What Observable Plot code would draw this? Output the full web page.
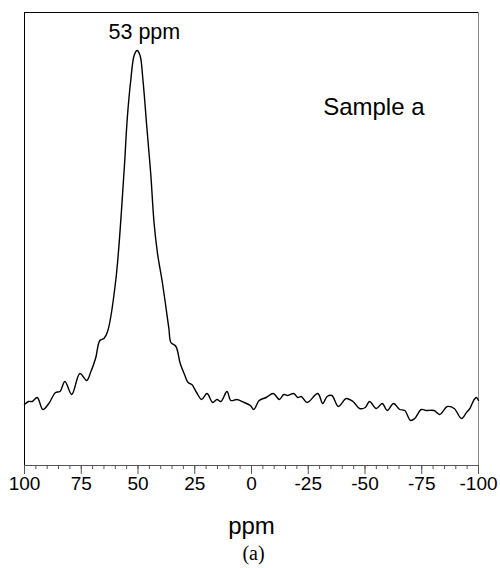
<!DOCTYPE html>
<html>
<head>
<meta charset="utf-8">
<script src="https://cdn.jsdelivr.net/npm/d3@7"></script>
<script src="https://cdn.jsdelivr.net/npm/@observablehq/plot@0.6"></script>
<style>
  html, body { margin: 0; padding: 0; background: #fff; }
</style>
</head>
<body>
<div id="chart"></div>
<script>
// Chemical shift (ppm), left (100) to right (-100)
const ppm = [
  100, 98.2, 96.6, 94.4, 91.9, 89.3, 86.3, 84.4, 82.2, 79.2,
  75.6, 72.6, 70.9, 68.7, 66.8, 65.0, 63.4, 59.8, 56.2, 54.7,
  53.2, 51.7, 50.4, 49.1, 47.8, 46.1, 44.4, 42.9, 41.4, 39.2,
  36.4, 35.5, 33.3, 31.4, 29.7, 27.9, 26.3, 24.2, 22.0, 19.6,
  17.1, 15.2, 13.5, 10.8, 9.1, 6.4, 3.2, 0.5, -1.0, -3.4,
  -6.4, -9.6, -12.3, -14.2, -16.0, -18.6, -20.4, -21.9, -24.5, -29.2,
  -31.4, -33.3, -35.4, -38.3, -41.7, -44.7, -47.6, -50.1, -52.0, -55.0,
  -57.6, -59.8, -62.6, -65.3, -67.5, -70.1, -71.9, -74.8, -77.0, -80.4,
  -82.9, -86.3, -89.3, -92.5, -94.7, -96.2, -98.1, -99.1, -100
];
// Intensity (arbitrary units)
const intensity = [
  61, 64, 64, 68, 56, 62, 73, 74, 84, 71,
  92, 85, 93, 107, 125, 127, 134, 185, 292, 348,
  385, 410, 415, 410, 385, 338, 292, 242, 212, 182,
  137, 123, 119, 102, 92, 83, 81, 73, 66, 72,
  63, 66, 64, 74, 65, 66, 63, 60, 56, 65,
  68, 72, 66, 71, 70, 72, 68, 69, 63, 72,
  62, 69, 70, 59, 67, 64, 57, 58, 64, 57,
  62, 55, 62, 56, 55, 45, 47, 56, 55, 55,
  51, 59, 57, 47, 53, 57, 66, 68, 65
];
const majorTicks = [100, 75, 50, 25, 0, -25, -50, -75, -100];
const minorTicks = d3.range(-100, 101, 5);
const xLabel = "ppm";
const caption = "(a)";
const annotations = [
  {text: "53 ppm", x: 47.2, y: 427},
  {text: "Sample a", x: -53.9, y: 351}
];

const data = ppm.map((p, i) => ({ppm: p, intensity: intensity[i]}));

const chart = Plot.plot({
  width: 500,
  height: 568,
  marginLeft: 24,
  marginRight: 22,
  marginTop: 12,
  marginBottom: 103,
  style: {fontFamily: "'Liberation Sans', Arial, sans-serif", background: "#fff", overflow: "visible", color: "#000"},
  x: {domain: [100, -100], label: null},
  y: {domain: [0, 453], axis: null},
  marks: [
    Plot.ruleX([100], {stroke: "#000", strokeWidth: 1}),
    Plot.ruleX([-100], {stroke: "#888", strokeWidth: 1}),
    Plot.ruleY([453], {stroke: "#000", strokeWidth: 1}),
    Plot.ruleY([0], {stroke: "#555", strokeWidth: 1}),
    Plot.axisX({ticks: minorTicks, tickSize: 4, text: null, stroke: "#555", label: null}),
    Plot.axisX({ticks: majorTicks, tickSize: 9, tickPadding: 2, tickFormat: d => String(d),
      fontSize: 19, stroke: "#555", fill: "#000", label: null}),
    Plot.line(data, {x: "ppm", y: "intensity", stroke: "#000", strokeWidth: 1.4, curve: "catmull-rom"}),
    Plot.text(annotations.slice(0, 1), {x: "x", y: "y", text: "text", fontSize: 21.5, lineAnchor: "bottom", textAnchor: "middle", fill: "#000"}),
    Plot.text(annotations.slice(1), {x: "x", y: "y", text: "text", fontSize: 24, lineAnchor: "bottom", textAnchor: "middle", fill: "#000"}),
    Plot.text([xLabel], {frameAnchor: "bottom", dy: 68, text: d => d, fontSize: 24, lineAnchor: "bottom", fill: "#000"}),
    Plot.text([caption], {frameAnchor: "bottom", dy: 94, dx: 2, text: d => d, fontSize: 20, lineAnchor: "bottom",
      fontFamily: "'Liberation Serif', 'Times New Roman', serif", fill: "#000"})
  ]
});
document.getElementById("chart").appendChild(chart);
</script>
</body>
</html>
